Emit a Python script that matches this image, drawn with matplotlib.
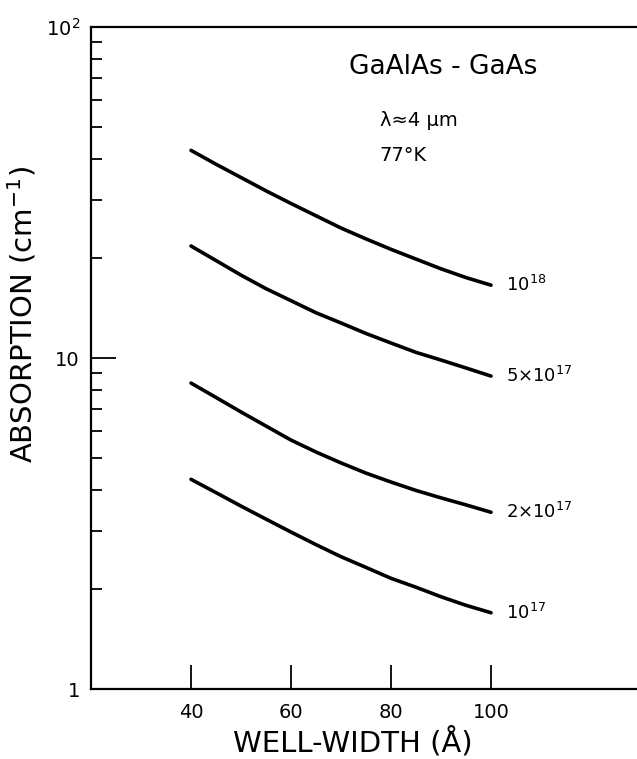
import matplotlib.pyplot as plt
from matplotlib.ticker import FixedLocator, FixedFormatter, LogLocator, NullFormatter

# well width (angstrom) and absorption (cm^-1)
well_width = [40, 45, 50, 55, 60, 65, 70, 75, 80, 85, 90, 95, 100]
abs_1e18 = [42.4, 38.5, 35.1, 32.0, 29.3, 26.9, 24.7, 22.9, 21.3, 19.9, 18.6, 17.5, 16.6]
abs_5e17 = [21.8, 19.7, 17.8, 16.2, 14.9, 13.7, 12.76, 11.86, 11.1, 10.4, 9.86, 9.33, 8.82]
abs_2e17 = [8.4, 7.6, 6.87, 6.23, 5.65, 5.2, 4.82, 4.49, 4.22, 3.98, 3.78, 3.6, 3.42]
abs_1e17 = [4.30, 3.92, 3.57, 3.26, 2.98, 2.73, 2.51, 2.33, 2.16, 2.03, 1.90, 1.79, 1.70]

curve_labels = ["10$^{18}$", "5×10$^{17}$", "2×10$^{17}$", "10$^{17}$"]
x_ticks = [40, 60, 80, 100]
y_ticks = [1, 10, 100]
y_tick_labels = ["1", "10", "10$^2$"]

plt.rcParams["font.family"] = ["DejaVu Sans"]
plt.rcParams["mathtext.default"] = "regular"

fig = plt.figure(figsize=(6.37, 7.59), dpi=100)
ax = fig.add_axes([0.1429, 0.0922, 0.8571, 0.8722])

series = [abs_1e18, abs_5e17, abs_2e17, abs_1e17]
for vals, lab in zip(series, curve_labels):
    ax.plot(well_width, vals, color="black", lw=2.6, solid_capstyle="round")
    ax.text(well_width[-1] + 3, vals[-1], lab, fontsize=13, va="center", ha="left")

ax.set_yscale("log")
ax.set_xlim(20, 129.2)
ax.set_ylim(1, 100)

ax.spines["right"].set_visible(False)
for side in ["left", "top", "bottom"]:
    ax.spines[side].set_linewidth(1.6)

ax.xaxis.set_major_locator(FixedLocator(x_ticks))
ax.yaxis.set_major_locator(FixedLocator(y_ticks))
ax.yaxis.set_major_formatter(FixedFormatter(y_tick_labels))
ax.yaxis.set_minor_locator(LogLocator(base=10, subs=range(2, 10)))
ax.yaxis.set_minor_formatter(NullFormatter())
ax.xaxis.set_minor_locator(FixedLocator([]))

ax.tick_params(axis="x", direction="in", length=17, width=1.3, labelsize=14, pad=10)
ax.tick_params(axis="y", which="major", direction="in", length=18, width=1.3,
               labelsize=14, pad=8)
ax.tick_params(axis="y", which="minor", direction="in", length=8, width=1.3)
ax.tick_params(top=False, right=False)

ax.set_xlabel("WELL-WIDTH (Å)", fontsize=21, va="top")
ax.xaxis.set_label_coords(0.48, -0.057)
ax.set_ylabel("ABSORPTION (cm$^{-1}$)", fontsize=21)
ax.yaxis.set_label_coords(-0.097, 0.566)

ax.text(0.645, 0.9396, "GaAlAs - GaAs", transform=ax.transAxes, fontsize=19,
        ha="center", va="center")
ax.text(0.529, 0.8595, "λ≈4 μm", transform=ax.transAxes, fontsize=14,
        ha="left", va="center")
ax.text(0.529, 0.8066, "77°K", transform=ax.transAxes, fontsize=14,
        ha="left", va="center")

fig.savefig("out.png", dpi=100)
